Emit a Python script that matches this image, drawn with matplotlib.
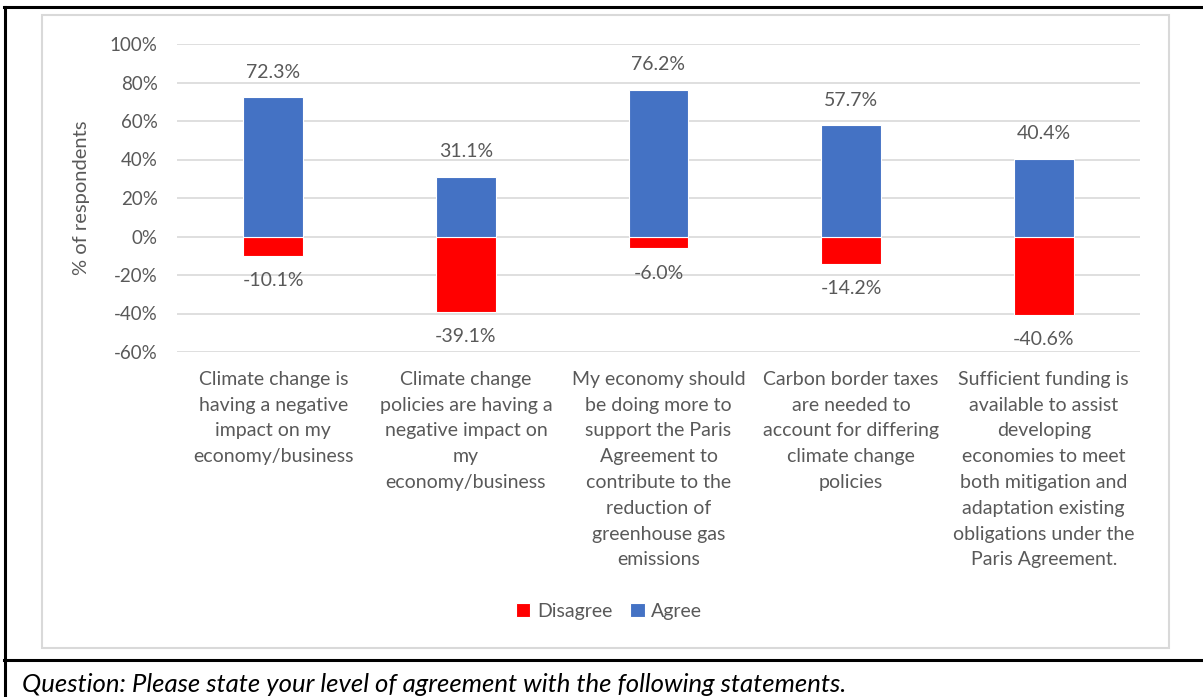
import matplotlib
matplotlib.use("Agg")
import matplotlib.pyplot as plt
from matplotlib.patches import Rectangle
from matplotlib.lines import Line2D
from matplotlib.ticker import PercentFormatter
import numpy as np

plt.rcParams['font.family'] = ['Lato', 'DejaVu Sans']
plt.rcParams['axes.unicode_minus'] = False

# data
statements = [
    "Climate change is\nhaving a negative\nimpact on my\neconomy/business",
    "Climate change\npolicies are having a\nnegative impact on\nmy\neconomy/business",
    "My economy should\nbe doing more to\nsupport the Paris\nAgreement to\ncontribute to the\nreduction of\ngreenhouse gas\nemissions",
    "Carbon border taxes\nare needed to\naccount for differing\nclimate change\npolicies",
    "Sufficient funding is\navailable to assist\ndeveloping\neconomies to meet\nboth mitigation and\nadaptation existing\nobligations under the\nParis Agreement.",
]
agree = [72.3, 31.1, 76.2, 57.7, 40.4]
disagree = [-10.1, -39.1, -6.0, -14.2, -40.6]
yticks = [-60, -40, -20, 0, 20, 40, 60, 80, 100]

TXT = '#595959'
BLUE = '#4472C4'
RED = '#FF0000'
GRID = '#D9D9D9'
FS = 14

W, H = 1203, 697
fig = plt.figure(figsize=(W / 100, H / 100), dpi=100)
ax = fig.add_axes([177 / W, 1 - 352 / H, (1140 - 177) / W, (352 - 44) / H])

x = np.arange(len(statements))
bw = 0.31
b_dis = ax.bar(x, disagree, bw, color=RED, edgecolor='white', linewidth=0.8, label='Disagree', zorder=3)
b_agr = ax.bar(x, agree, bw, color=BLUE, edgecolor='white', linewidth=0.8, label='Agree', zorder=3)

for xi, v in zip(x, agree):
    ax.annotate(f"{v:.1f}%", (xi, v), xytext=(0, 18), textcoords='offset points',
                ha='center', va='center', fontsize=FS, color=TXT)
for xi, v in zip(x, disagree):
    ax.annotate(f"{v:.1f}%", (xi, v), xytext=(0, -18), textcoords='offset points',
                ha='center', va='center', fontsize=FS, color=TXT)

ax.set_xlim(-0.5, len(statements) - 0.5)
ax.set_ylim(-60, 100)
ax.set_yticks(yticks)
ax.yaxis.set_major_formatter(PercentFormatter(decimals=0))
ax.set_xticks(x)
ax.set_xticklabels(statements, fontsize=FS, color=TXT, linespacing=1.63, va='top')
ax.tick_params(axis='y', length=0, pad=14, labelsize=FS - 0.5, labelcolor=TXT)
ax.tick_params(axis='x', length=0, pad=13.5)
ax.grid(axis='y', color=GRID, linewidth=1.2, zorder=0)
for s in ax.spines.values():
    s.set_visible(False)
ax.set_ylabel('% of respondents', fontsize=FS + 0.5, color=TXT)
ax.yaxis.set_label_coords(-87 / (1140 - 177), 0.5)

fig.legend(handles=[b_dis, b_agr], labels=['Disagree', 'Agree'], loc='center',
           bbox_to_anchor=(609 / W, 1 - 611 / H), ncol=2, frameon=False,
           fontsize=FS, labelcolor=TXT, handlelength=0.75, handleheight=0.75,
           handletextpad=0.35, columnspacing=0.9)

# chart frame and page borders
fig.patches.append(Rectangle((42 / W, 1 - 648 / H), (1169 - 42) / W, (648 - 15) / H,
                             transform=fig.transFigure, fill=False, edgecolor=GRID, linewidth=1.5))
fig.lines.append(Line2D([4 / W, 1], [1 - 6.5 / H] * 2, transform=fig.transFigure, color='black', linewidth=2.2))
fig.lines.append(Line2D([4 / W, 1], [1 - 660 / H] * 2, transform=fig.transFigure, color='black', linewidth=2.2))
fig.lines.append(Line2D([5 / W] * 2, [0, 1 - 6.5 / H], transform=fig.transFigure, color='black', linewidth=2.2))

fig.text(22 / W, 1 - 684 / H, 'Question: Please state your level of agreement with the following statements.',
         fontsize=18.5, style='italic', color='black', va='center', ha='left')

fig.savefig('out.png', dpi=100)
